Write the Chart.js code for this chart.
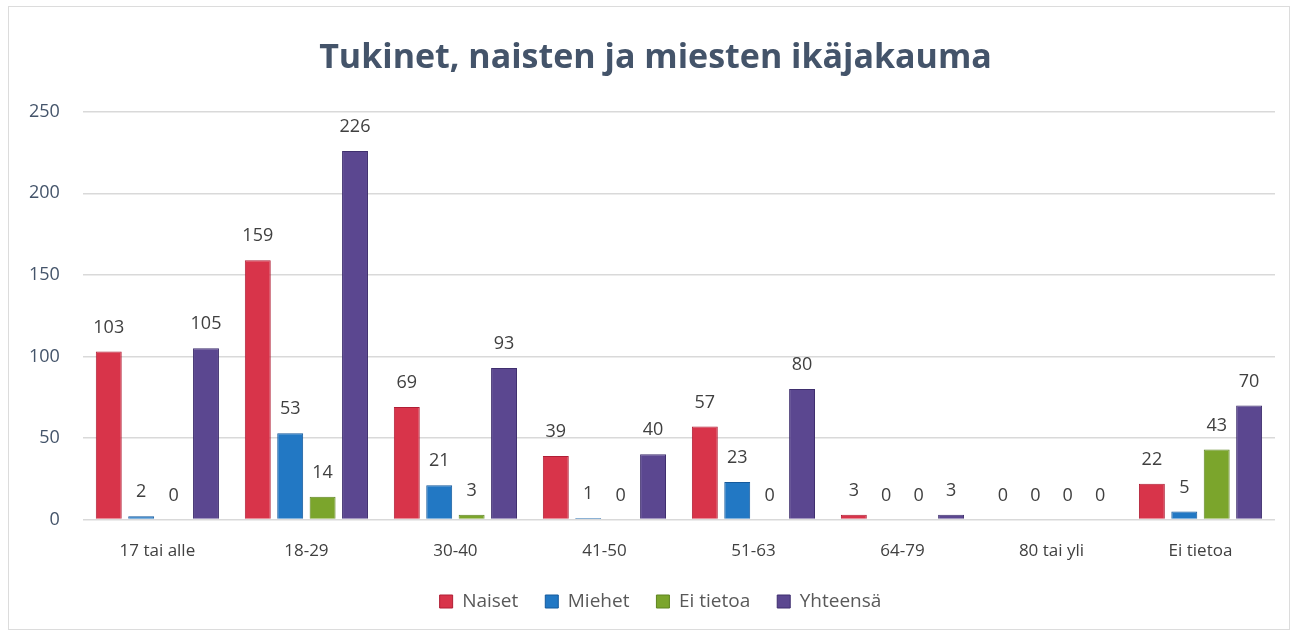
<!DOCTYPE html>
<html>
<head>
<meta charset="utf-8">
<script src="https://cdn.jsdelivr.net/npm/chart.js@4"></script>
<style>
  html, body { margin: 0; padding: 0; background: #fff; }
  #wrap { position: absolute; left: 8px; top: 6px; width: 1282px; height: 624px; border: 1px solid #dcdcdc; box-sizing: border-box; }
  canvas { position: absolute; left: 0; top: 0; }
</style>
</head>
<body>
<div id="wrap"></div>
<canvas id="chartCanvas" width="1295" height="635"></canvas>
<script>
// data
var categories = ['17 tai alle', '18-29', '30-40', '41-50', '51-63', '64-79', '80 tai yli', 'Ei tietoa']
var naiset   = [103, 159, 69, 39, 57, 3, 0, 22]
var miehet   = [2, 53, 21, 1, 23, 0, 0, 5]
var eiTietoa = [0, 14, 3, 0, 0, 0, 0, 43]
var yhteensa = [105, 226, 93, 40, 80, 3, 0, 70]
var yTicks   = [0, 50, 100, 150, 200, 250]

var seriesNames  = ['Naiset', 'Miehet', 'Ei tietoa', 'Yhteensä']
var seriesValues = [naiset, miehet, eiTietoa, yhteensa]
var colorList    = ['#d8344a', '#2278c4', '#7ba52c', '#5b4790']
var darkList     = ['#b01e35', '#155a9c', '#5e8420', '#3f2f6e']

var font = "'Open Sans', 'DejaVu Sans', sans-serif"

// plugin that writes the value above every bar
var valueLabels = {
    id: 'valueLabels',
    afterDatasetsDraw(chart) {
        var ctx = chart.ctx
        ctx.save()
        ctx.font = '18px ' + font
        ctx.fillStyle = '#404040'
        ctx.textAlign = 'center'
        ctx.textBaseline = 'middle'
        chart.data.datasets.forEach((ds, i) => {
            chart.getDatasetMeta(i).data.forEach((bar, j) => {
                ctx.fillText(ds.data[j], bar.x, bar.y - 24)
            })
        })
        ctx.restore()
    }
}

// title and legend sit a little right of the canvas centre in the original
var nudge = {
    id: 'nudge',
    afterLayout(chart) {
        chart.titleBlock.left += 15
        chart.titleBlock.right += 15
        chart.legend.left += 20
        chart.legend.right += 20
    }
}

var datasets = seriesNames.map((name, i) => {
    return {
        label: name,
        data: seriesValues[i],
        backgroundColor: colorList[i],
        borderColor: darkList[i],
        borderWidth: 1,
        barPercentage: 0.8,
        categoryPercentage: 0.87
    }
})

Chart.defaults.font.family = font
Chart.defaults.color = '#595959'

new Chart(document.getElementById('chartCanvas'), {
    type: 'bar',
    data: { labels: categories, datasets: datasets },
    plugins: [valueLabels, nudge],
    options: {
        responsive: false,
        animation: false,
        layout: { padding: { left: 6, right: 20, top: 38, bottom: 14 } },
        plugins: {
            title: {
                display: true,
                text: 'Tukinet, naisten ja miesten ikäjakauma',
                color: '#44546a',
                font: { size: 34, weight: 'bold' },
                padding: { top: 0, bottom: 33 }
            },
            legend: {
                position: 'bottom',
                labels: {
                    boxWidth: 13, boxHeight: 13,
                    font: { size: 19 },
                    color: '#595959',
                    padding: 27
                }
            },
            tooltip: { enabled: false }
        },
        scales: {
            x: {
                grid: { display: false },
                border: { display: false },
                ticks: { font: { size: 17 }, color: '#404040', padding: 13 },
                afterFit: axis => { axis.height -= 9 }
            },
            y: {
                min: 0, max: 250,
                afterBuildTicks: axis => { axis.ticks = yTicks.map(v => ({ value: v })) },
                grid: { color: '#d9d9d9', lineWidth: 1.5, drawTicks: false },
                border: { display: false },
                ticks: { font: { size: 18 }, color: '#44546a', padding: 23 }
            }
        }
    }
})
</script>
</body>
</html>
